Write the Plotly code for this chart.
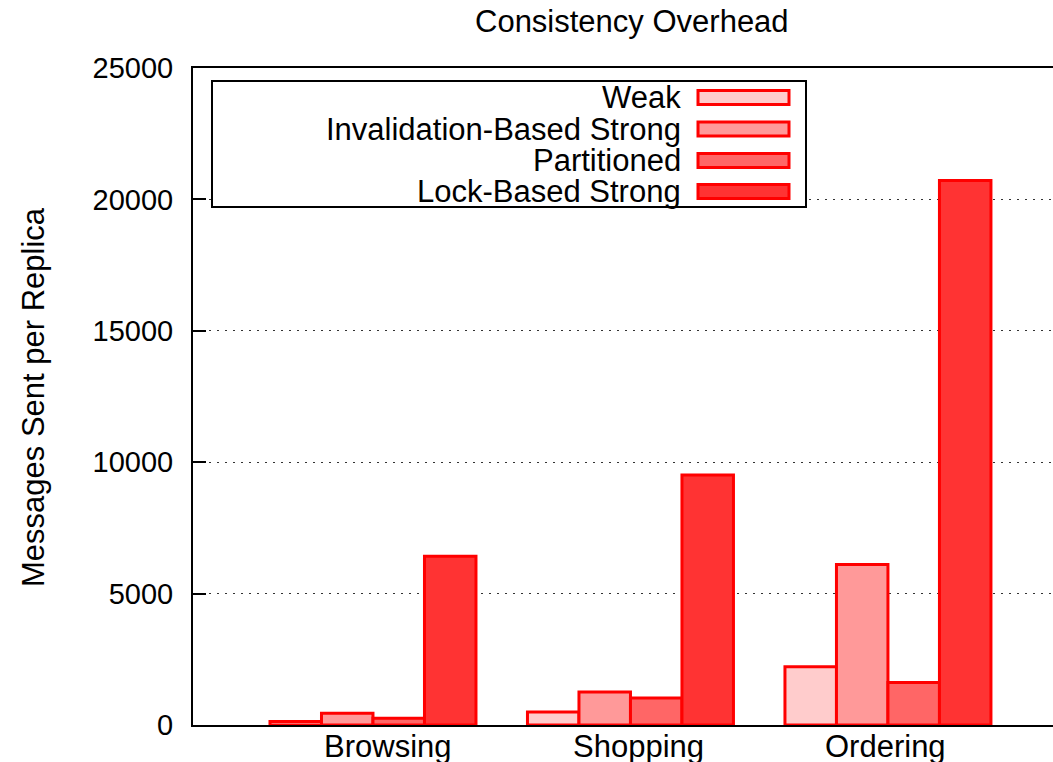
import plotly.graph_objects as go

# Workloads and message counts per consistency scheme
workloads = ["Browsing", "Shopping", "Ordering"]
schemes = ["Weak", "Invalidation-Based Strong", "Partitioned", "Lock-Based Strong"]
weak = [130, 495, 2215]
invalidation = [445, 1255, 6110]
partitioned = [255, 1030, 1615]
lock_based = [6420, 9510, 20720]
y_ticks = [0, 5000, 10000, 15000, 20000, 25000]

series = [weak, invalidation, partitioned, lock_based]
fills = ["#ffcccc", "#ff9999", "#ff6666", "#ff3333"]
edge = "#ff0000"
FONT = "Liberation Sans, Arial, sans-serif"
FS = 31
FS_TICK = 29

W, H = 1053, 762
ML, MR, MT, MB = 193, 0, 68, 37
PW, PH = W - ML - MR, H - MT - MB


def px(x):
    return (x - ML) / PW


def py(y):
    return (H - MB - y) / PH


fig = go.Figure()
group_pos = list(range(len(workloads)))
for name, vals, col in zip(schemes, series, fills):
    fig.add_trace(go.Bar(
        x=group_pos, y=vals, name=name,
        marker=dict(color=col, line=dict(color=edge, width=3)),
        showlegend=False,
    ))

# horizontal placement of category labels under each cluster
label_shift = [0.06, 0.03, -0.01]

fig.update_layout(
    width=W, height=H,
    margin=dict(l=ML, r=MR, t=MT, b=MB, autoexpand=False),
    paper_bgcolor="white", plot_bgcolor="white",
    barmode="group", bargap=0.2, bargroupgap=0,
    font=dict(family=FONT, size=FS, color="black"),
    xaxis=dict(
        range=[-0.699, 2.641],
        showticklabels=False,
        ticks="", showgrid=False, zeroline=False,
        showline=True, linecolor="black", linewidth=2, mirror=True,
        automargin=False,
    ),
    yaxis=dict(
        range=[0, 25000], tickvals=y_ticks,
        ticktext=[str(v) for v in y_ticks],
        ticks="inside", ticklen=13, tickwidth=2, tickcolor="black",
        showline=True, linecolor="black", linewidth=2, mirror=False,
        showgrid=True, gridcolor="#333333", gridwidth=1, griddash="2px,6px",
        zeroline=False,
        tickfont=dict(family=FONT, size=FS_TICK, color="black"),
        ticklabelstandoff=12, automargin=False,
    ),
)

annotations = [
    dict(text="Consistency Overhead", x=px(632), y=py(22), xref="paper", yref="paper",
         xanchor="center", yanchor="middle", showarrow=False,
         font=dict(family=FONT, size=FS, color="black")),
    dict(text="Messages Sent per Replica", x=px(33), y=py(397), xref="paper", yref="paper",
         xanchor="center", yanchor="middle", textangle=-90, showarrow=False,
         font=dict(family=FONT, size=FS, color="black")),
]

# Category labels below each cluster, placed in data units on the x axis
for g, s, label in zip(group_pos, label_shift, workloads):
    annotations.append(dict(text=label, x=g + s, y=py(727), xref="x", yref="paper",
                            xanchor="center", yanchor="top", showarrow=False,
                            font=dict(family=FONT, size=FS, color="black")))

# Legend: framed box, right-aligned labels with swatches on the right
shapes = [dict(type="rect", xref="paper", yref="paper",
               x0=px(212), x1=px(806), y0=py(207), y1=py(81),
               line=dict(color="black", width=2), fillcolor="white", layer="above")]
row_centers = [97.5, 129, 160.5, 191.5]
for name, col, rc in zip(schemes, fills, row_centers):
    shapes.append(dict(type="rect", xref="paper", yref="paper",
                       x0=px(698), x1=px(789), y0=py(rc + 7), y1=py(rc - 7),
                       line=dict(color=edge, width=3), fillcolor=col, layer="above"))
    annotations.append(dict(text=name, x=px(683), y=py(rc), xref="paper", yref="paper",
                            xanchor="right", yanchor="middle", showarrow=False,
                            font=dict(family=FONT, size=FS, color="black")))

fig.update_layout(shapes=shapes, annotations=annotations)
fig.write_html("out.html")
